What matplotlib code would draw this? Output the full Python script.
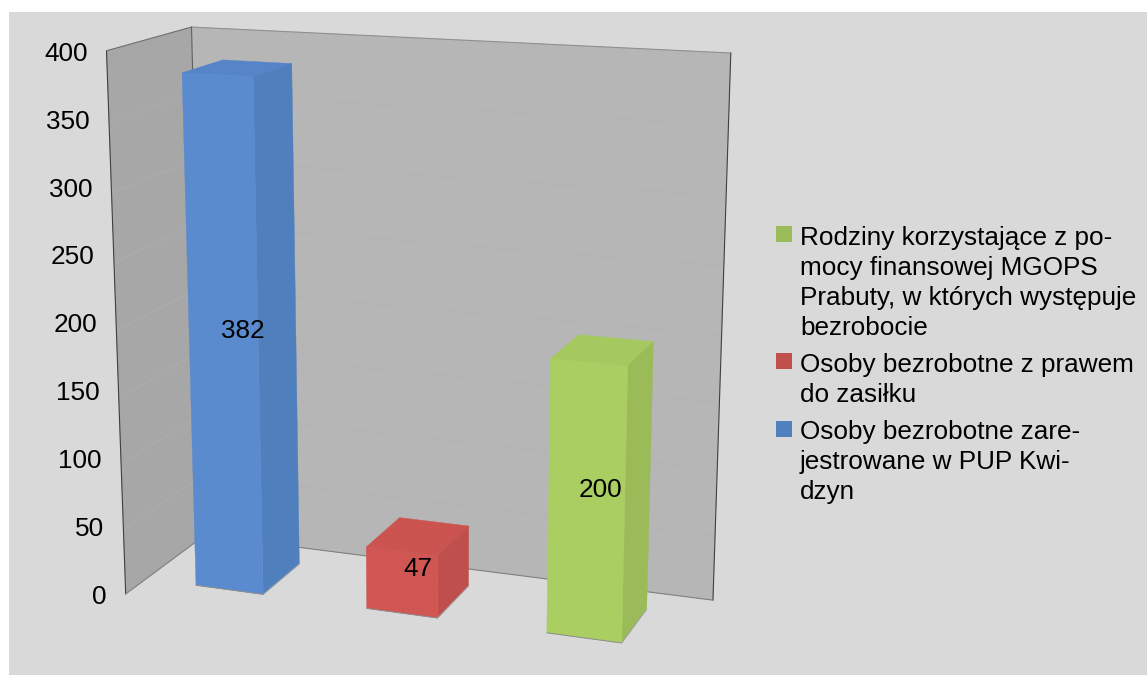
import numpy as np
import matplotlib
matplotlib.use('Agg')
import matplotlib.pyplot as plt
from matplotlib.patches import Polygon, Rectangle

plt.rcParams['font.family'] = ['Liberation Sans', 'DejaVu Sans']

series = ['Osoby bezrobotne zare-\njestrowane w PUP Kwi-\ndzyn',
          'Osoby bezrobotne z prawem\ndo zasiłku',
          'Rodziny korzystające z po-\nmocy finansowej MGOPS\nPrabuty, w których występuje\nbezrobocie']
values = [382, 47, 200]
yticks = [0, 50, 100, 150, 200, 250, 300, 350, 400]

front_colors = ['#5A8BCF', '#D05653', '#AACE62']
side_colors = ['#4F7FBC', '#BE4F4C', '#9BBB59']
top_colors = ['#5585C8', '#CB5451', '#A5C85F']
legend_colors = ['#4F81BD', '#C0504D', '#9BBB59']

# perspective camera: (category, depth, value) -> pixel
CAMERA = np.array([
    [162.7808888689609, 93.6895583513425, -0.06372204254661787, 125.68923404740332],
    [7.362983971676242, -20.351347822370982, -1.365634513044222, 594.0050315836382],
    [-0.0263327260649886, 0.07165801894003904, -0.00014783366763992944, 1.0],
])
FONT = 18.8


def project(cat, depth, val):
    h = CAMERA @ np.array([cat, depth, val, 1.0])
    return h[0]/h[2], h[1]/h[2]


fig = plt.figure(figsize=(11.47, 6.75), dpi=100, facecolor='white')
ax = fig.add_axes([0, 0, 1, 1])
ax.set_xlim(0, 1147)
ax.set_ylim(675, 0)
ax.axis('off')
ax.add_patch(Rectangle((9, 12), 1138, 663, fc='#D9D9D9', ec='none'))


def face(pts, color, z=1):
    ax.add_patch(Polygon([project(*p) for p in pts], closed=True, fc=color, ec=color, lw=.3, zorder=z))


def edge(p0, p1, color, lw=.8, z=3):
    a, b = project(*p0), project(*p1)
    ax.plot([a[0], b[0]], [a[1], b[1]], color=color, lw=lw, zorder=z, solid_capstyle='round')


top = yticks[-1]
face([(0, 0, 0), (0, 1, 0), (0, 1, top), (0, 0, top)], '#A7A7A7')
face([(0, 1, 0), (3, 1, 0), (3, 1, top), (0, 1, top)], '#B6B6B6')
for t in yticks[1:-1]:
    edge((0, 0, t), (0, 1, t), '#AEAEAE', .6, 2)
    edge((0, 1, t), (3, 1, t), '#B3B3B3', .6, 2)
edge((0, 0, 0), (0, 0, top), '#404040')
edge((0, 0, top), (0, 1, top), '#707070')
edge((0, 1, top), (3, 1, top), '#909090')
edge((0, 1, 0), (0, 1, top), '#606060')
edge((3, 1, 0), (3, 1, top), '#404040')
edge((0, 0, 0), (0, 1, 0), '#808080')
edge((0, 1, 0), (3, 1, 0), '#808080')

# the axis labels sit evenly spaced between the two ends of the wall edge
lo, hi = project(0, 0, yticks[0]), project(0, 0, top)
for t in yticks:
    f = t/top
    x = lo[0] + (hi[0]-lo[0])*f - 19
    y = lo[1] + (hi[1]-lo[1])*f + 10
    ax.text(x, y, str(t), ha='right', va='baseline', fontsize=FONT, color='black', zorder=6)

half = 0.2
d0, d1 = 0.25, 0.75
for i, val in enumerate(values):
    x0, x1 = i + .5 - half, i + .5 + half
    z = 4 + i*.1
    face([(x0, d0, val), (x0, d1, val), (x1, d1, val), (x1, d0, val)], top_colors[i], z)
    face([(x1, d0, 0), (x1, d1, 0), (x1, d1, val), (x1, d0, val)], side_colors[i], z)
    face([(x0, d0, 0), (x1, d0, 0), (x1, d0, val), (x0, d0, val)], front_colors[i], z)
    edge((x0, d0, 0), (x1, d0, 0), '#8C8C8C', .7, z)
    edge((x1, d0, 0), (x1, d1, 0), '#A0A0A0', .7, z)
    x, y = project(i + .5, .5, val/2)
    ax.text(x, y + 9.5, str(val), ha='center', va='baseline', fontsize=FONT, color='black', zorder=6)

# legend is listed in reverse order, text set by hand to keep the original line breaks
baselines = [245, 372, 439]
squares = [226, 353, 421]
for name, col, base, sq in zip(series[::-1], legend_colors[::-1], baselines, squares):
    ax.add_patch(Rectangle((776, sq), 16, 16, fc=col, ec='none', zorder=6))
    for k, line in enumerate(name.split('\n')):
        ax.text(800, base + 30*k, line, ha='left', va='baseline', fontsize=FONT, color='black', zorder=6)

fig.savefig('out.png', dpi=100, facecolor='white')
